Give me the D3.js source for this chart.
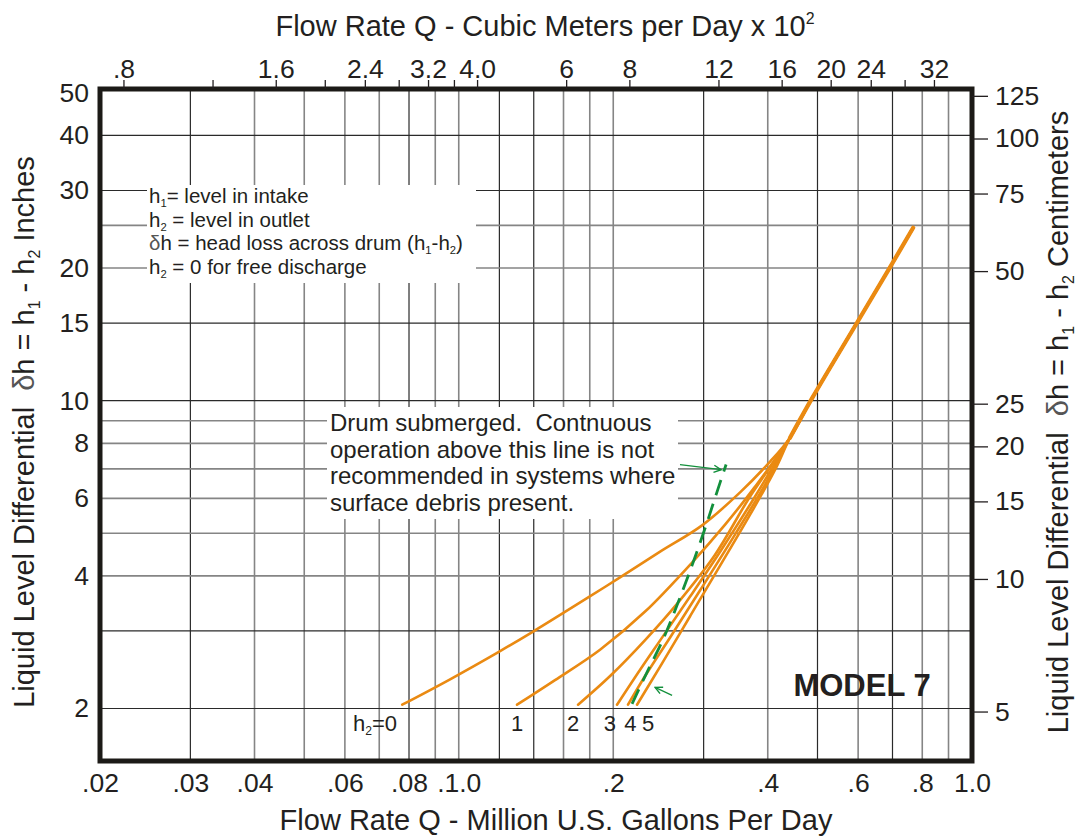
<!DOCTYPE html>
<html>
<head>
<meta charset="utf-8">
<script src="https://cdn.jsdelivr.net/npm/d3@7"></script>
<style>
  html, body { margin: 0; padding: 0; background: #fff; }
  svg text { font-family: "Liberation Sans", Arial, Helvetica, sans-serif; fill: #231f20; white-space: pre; }
</style>
</head>
<body>
<svg id="chart" width="1080" height="837"></svg>
<script>
(function() {

  // grid lines (MGD on x, inches on y)
  const xGrid = [0.03, 0.04, 0.05, 0.06, 0.07, 0.08, 0.09, 0.1, 0.12, 0.14, 0.16, 0.18,
                 0.2, 0.3, 0.4, 0.5, 0.6, 0.7, 0.8, 0.9];
  const yGrid = [2, 3, 4, 5, 6, 7, 8, 9, 10, 15, 20, 25, 30, 40];
  // grid lines printed black; the rest are grey
  const xGridDark = [0.03, 0.08, 0.12, 0.14, 0.3, 0.5, 0.7];
  const yGridDark = [2, 3, 10, 15, 30, 40];

  // axis ticks
  const bottomTicks = [0.02, 0.03, 0.04, 0.06, 0.08, 0.1, 0.2, 0.4, 0.6, 0.8, 1.0];
  const bottomLabels = [".02", ".03", ".04", ".06", ".08", ".1.0", ".2", ".4", ".6", ".8", "1.0"];
  const topTicks = [0.8, 1.2, 1.6, 2.0, 2.4, 2.8, 3.2, 3.6, 4.0, 6, 8, 12, 16, 20, 24, 28, 32];
  const topLabels = [".8", "", "1.6", "", "2.4", "", "3.2", "", "4.0", "6", "8", "12", "16", "20", "24", "", "32"];
  const leftTicks = [2, 4, 6, 8, 10, 15, 20, 30, 40, 50];
  const rightTicksCm = [5, 10, 15, 20, 25, 50, 75, 100, 125];

  // head loss curves [MGD, inches], one per outlet level h2
  const sharedTop = [[0.442, 8.24], [0.490, 10.21], [0.597, 15.03], [0.693, 20.13], [0.768, 24.69]];
  const curveH0 = [[0.0776, 2.04], [0.0962, 2.33], [0.1204, 2.70], [0.1396, 2.99], [0.1778, 3.56],
                   [0.2062, 3.97], [0.2468, 4.54], [0.2979, 5.21], [0.3533, 6.19], [0.4042, 7.27]];
  const curveH1 = [[0.1299, 2.04], [0.1540, 2.32], [0.1885, 2.72], [0.2307, 3.32], [0.2848, 4.29],
                   [0.3303, 5.23], [0.3779, 6.38]];
  const curveH2 = [[0.1708, 2.04], [0.1972, 2.37], [0.2307, 2.86], [0.2675, 3.48], [0.3158, 4.47],
                   [0.3695, 6.06]];
  const curveH3 = [[0.2034, 2.04], [0.2256, 2.45], [0.2501, 2.92], [0.2823, 3.59], [0.3230, 4.54],
                   [0.3779, 6.06]];
  const curveH4 = [[0.2137, 2.04], [0.2307, 2.37], [0.2581, 2.90], [0.2953, 3.71], [0.3455, 4.97],
                   [0.3952, 6.45]];
  const curveH5 = [[0.2225, 2.04], [0.2468, 2.49], [0.2823, 3.24], [0.3230, 4.22], [0.3695, 5.51],
                   [0.4134, 6.97]];
  const curves = [curveH0, curveH1, curveH2, curveH3, curveH4, curveH5];

  // curve labels
  const curveLabelX = [0.0687, 0.130, 0.167, 0.197, 0.216, 0.234];
  const curveLabelY = 1.78;

  // submerged limit (green dashed)
  const submergedLine = [[0.2176, 2.05], [0.2328, 2.42], [0.2501, 2.87], [0.2675, 3.48], [0.2861, 4.29],
                         [0.3033, 5.21], [0.3173, 6.12], [0.3318, 7.16]];
  const arrowTop = [[0.2698, 7.16], [0.3244, 6.97]];
  const arrowBottom = [[0.2604, 2.142], [0.2413, 2.234]];

  const margin = {top: 89, right: 108, bottom: 76, left: 100};
  const W = 1080, H = 837;
  const x0 = margin.left, x1 = W - margin.right, y0 = margin.top, y1 = H - margin.bottom;

  const svg = d3.select("#chart");

  const x = d3.scaleLog().domain([0.02, 1]).range([x0, x1]);
  const xTop = d3.scaleLog().domain([0.719, 38.05]).range([x0, x1]);
  const y = d3.scaleLog().domain([1.52, 51]).range([y1, y0]);
  const yCm = d3.scaleLog().domain([1.52 * 2.54, 51 * 2.54]).range([y1, y0]);

  const ink = "#231f20";
  const gridDark = "#2a2a2a";
  const gridGrey = "#858585";
  const orange = "#ea8a12";
  const green = "#13903c";

  // grid
  svg.append("g").selectAll("line")
    .data(xGrid).enter().append("line")
    .attr("x1", d => x(d)).attr("x2", d => x(d))
    .attr("y1", y0).attr("y2", y1)
    .attr("stroke", d => xGridDark.includes(d) ? gridDark : gridGrey)
    .attr("stroke-width", d => xGridDark.includes(d) ? 1.2 : 1.6);

  svg.append("g").selectAll("line")
    .data(yGrid).enter().append("line")
    .attr("x1", x0).attr("x2", x1)
    .attr("y1", d => y(d)).attr("y2", d => y(d))
    .attr("stroke", d => yGridDark.includes(d) ? gridDark : gridGrey)
    .attr("stroke-width", d => yGridDark.includes(d) ? 1.2 : 1.6);

  // white boxes behind notes
  svg.append("rect").attr("x", 147).attr("y", 185).attr("width", 329).attr("height", 98).attr("fill", "#fff");
  svg.append("rect").attr("x", 327).attr("y", 407).attr("width", 351).attr("height", 112).attr("fill", "#fff");

  // curves
  const line = d3.line()
    .x(d => x(d[0]))
    .y(d => y(d[1]))
    .curve(d3.curveCatmullRom.alpha(0.5));

  svg.append("g").selectAll("path")
    .data(curves).enter().append("path")
    .attr("d", d => line(d.concat(sharedTop)))
    .attr("fill", "none")
    .attr("stroke", orange)
    .attr("stroke-width", 2.6)
    .attr("stroke-linecap", "round");

  // overlapping upper part of all curves reads as a thicker band
  svg.append("path")
    .attr("d", line(sharedTop))
    .attr("fill", "none")
    .attr("stroke", orange)
    .attr("stroke-width", 4.2)
    .attr("stroke-linecap", "round");

  // submerged line
  svg.append("path")
    .attr("d", line(submergedLine))
    .attr("fill", "none")
    .attr("stroke", green)
    .attr("stroke-width", 2.8)
    .attr("stroke-dasharray", "16,9");

  svg.append("defs").append("marker")
    .attr("id", "chev")
    .attr("viewBox", "0 0 10 10")
    .attr("refX", 9).attr("refY", 5)
    .attr("markerWidth", 9).attr("markerHeight", 9)
    .attr("markerUnits", "userSpaceOnUse")
    .attr("orient", "auto")
    .append("path")
    .attr("d", "M1,1 L9,5 L1,9")
    .attr("fill", "none")
    .attr("stroke", green)
    .attr("stroke-width", 1.6);

  const straight = d3.line().x(d => x(d[0])).y(d => y(d[1]));
  [arrowTop, arrowBottom].forEach(a => {
    svg.append("path")
      .attr("d", straight(a))
      .attr("fill", "none")
      .attr("stroke", green)
      .attr("stroke-width", 1.3)
      .attr("marker-end", "url(#chev)");
  });

  // frame
  svg.append("rect")
    .attr("x", x0).attr("y", y0)
    .attr("width", x1 - x0).attr("height", y1 - y0)
    .attr("fill", "none")
    .attr("stroke", "#1c1a17")
    .attr("stroke-width", 5);

  // axes
  function styleAxis(g, size) {
    g.select(".domain").remove();
    g.selectAll(".tick line").attr("stroke", ink).attr("stroke-width", 1.3);
    g.selectAll(".tick text").attr("font-size", size).style("fill", ink);
  }

  svg.append("g")
    .attr("transform", `translate(0,${y1})`)
    .call(d3.axisBottom(x).tickValues(bottomTicks).tickSize(0).tickPadding(12)
      .tickFormat((d, i) => bottomLabels[i]))
    .call(g => styleAxis(g, 26.5))
    .attr("font-family", null);

  svg.append("g")
    .attr("transform", `translate(0,${y0})`)
    .call(d3.axisTop(xTop).tickValues(topTicks).tickSize(9).tickPadding(2)
      .tickFormat((d, i) => topLabels[i]))
    .call(g => styleAxis(g, 26.5))
    .attr("font-family", null);

  svg.append("g")
    .attr("transform", `translate(${x0},0)`)
    .call(d3.axisLeft(y).tickValues(leftTicks).tickSize(0).tickPadding(11)
      .tickFormat(d3.format("d")))
    .call(g => styleAxis(g, 26.5))
    .attr("font-family", null);

  svg.append("g")
    .attr("transform", `translate(${x1},0)`)
    .call(d3.axisRight(yCm).tickValues(rightTicksCm).tickSize(16).tickPadding(7)
      .tickFormat(d3.format("d")))
    .call(g => styleAxis(g, 26.5))
    .attr("font-family", null);

  // rich text with subscripts / superscripts
  function rich(text, parts, fs) {
    let shift = 0;
    parts.forEach(p => {
      let str = p, target = 0, size = fs, fill = null;
      if (Array.isArray(p)) {
        str = p[1];
        if (p[0] === "sub") { target = fs * 0.2; size = fs * 0.55; }
        if (p[0] === "sup") { target = -fs * 0.42; size = fs * 0.55; }
        if (p[0] === "sym") { fill = "#555"; }
      }
      const t = text.append("tspan").attr("font-size", size).text(str);
      if (target - shift !== 0) t.attr("dy", target - shift);
      if (fill) t.style("fill", fill);
      shift = target;
    });
  }

  // titles
  rich(svg.append("text").attr("x", 545).attr("y", 36).attr("text-anchor", "middle"),
    ["Flow Rate Q - Cubic Meters per Day x 10", ["sup", "2"]], 29);

  rich(svg.append("text").attr("x", 556).attr("y", 830).attr("text-anchor", "middle"),
    ["Flow Rate Q - Million U.S. Gallons Per Day"], 29);

  rich(svg.append("text").attr("transform", "translate(34,432) rotate(-90)").attr("text-anchor", "middle"),
    ["Liquid Level Differential  ", ["sym", "δ"], "h = h", ["sub", "1"], " - h", ["sub", "2"], " Inches"], 29);

  rich(svg.append("text").attr("transform", "translate(1068,422) rotate(-90)").attr("text-anchor", "middle"),
    ["Liquid Level Differential  ", ["sym", "δ"], "h = h", ["sub", "1"], " - h", ["sub", "2"], " Centimeters"], 29);

  // legend notes
  const legendLines = [
    ["h", ["sub", "1"], "= level in intake"],
    ["h", ["sub", "2"], " = level in outlet"],
    [["sym", "δ"], "h = head loss across drum (h", ["sub", "1"], "-h", ["sub", "2"], ")"],
    ["h", ["sub", "2"], " = 0 for free discharge"]
  ];
  legendLines.forEach((parts, i) => {
    rich(svg.append("text").attr("x", 149).attr("y", 203 + i * 23.5), parts, 20.5);
  });

  // submerged note
  const noteLines = [
    "Drum submerged.  Contnuous",
    "operation above this line is not",
    "recommended in systems where",
    "surface debris present."
  ];
  noteLines.forEach((s, i) => {
    svg.append("text").attr("x", 330).attr("y", 431 + i * 26.7)
      .attr("font-size", 24).text(s);
  });

  // curve labels
  const curveLabels = [["h", ["sub", "2"], "=0"], ["1"], ["2"], ["3"], ["4"], ["5"]];
  curveLabels.forEach((parts, i) => {
    rich(svg.append("text").attr("x", x(curveLabelX[i])).attr("y", y(curveLabelY))
      .attr("text-anchor", "middle"), parts, 22);
  });

  svg.append("text")
    .attr("x", x(0.6106)).attr("y", y(2.131))
    .attr("text-anchor", "middle")
    .attr("font-size", 31)
    .attr("font-weight", "bold")
    .text("MODEL 7");

})();
</script>
</body>
</html>
